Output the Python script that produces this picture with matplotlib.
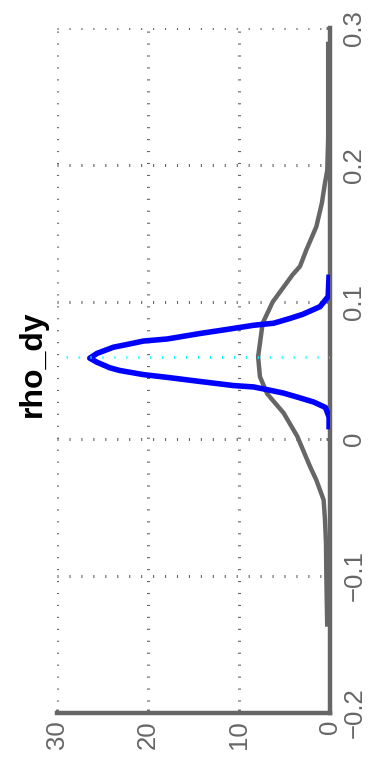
import matplotlib
matplotlib.use("Agg")
import matplotlib.pyplot as plt

plt.rcParams['font.family'] = ['Liberation Sans', 'DejaVu Sans']
plt.rcParams['lines.scale_dashes'] = False

# rho_dy distributions (x = position, y = density)
blue_x = [0.007, 0.016, 0.023, 0.027, 0.030, 0.0335, 0.036, 0.038, 0.039, 0.042,
          0.045, 0.047, 0.050, 0.052, 0.056, 0.059, 0.0625, 0.067, 0.069, 0.0715,
          0.073, 0.077, 0.080, 0.083, 0.0845, 0.088, 0.091, 0.0966, 0.104, 0.12]
blue_y = [0.1, 0.1, 0.5, 1.8, 3.3, 5.1, 6.9, 8.4, 10.6, 14.3,
          17.9, 20.5, 23.1, 24.2, 25.6, 26.4, 25.6, 23.8, 22.3, 20.5,
          17.9, 14.3, 11.3, 8.4, 6.2, 4.4, 3.0, 1.1, 0.2, 0.1]

gray_x = [-0.137, -0.12, -0.10, -0.076, -0.059, -0.0445, -0.030, -0.020, 0.002, 0.019,
          0.033, 0.0455, 0.060, 0.0845, 0.100, 0.120, 0.126, 0.138, 0.155, 0.172,
          0.187, 0.196, 0.22, 0.25, 0.29]
gray_y = [0.3, 0.35, 0.4, 0.44, 0.55, 0.7, 1.5, 2.2, 3.6, 5.1,
          6.9, 7.7, 7.9, 7.4, 6.3, 4.1, 3.3, 2.6, 1.5, 0.9,
          0.55, 0.3, 0.2, 0.2, 0.2]

marker_x = 0.0595
marker_len = 29

title = "rho_dy"
pos_ticks = [-0.2, -0.1, 0.0, 0.1, 0.2, 0.3]
pos_labels = ["\u22120.2", "\u22120.1", "0", "0.1", "0.2", "0.3"]
dens_ticks = [0, 10, 20, 30]
dens_labels = ["0", "10", "20", "30"]

GRAY = "#666666"

fig = plt.figure(figsize=(3.74, 7.76), dpi=100)
ax = fig.add_axes([57/374, 1-713/776, (330-57)/374, (713-28)/776])

ax.plot(gray_y, gray_x, color=GRAY, lw=3.2, solid_capstyle='butt', zorder=3)
ax.plot(blue_y, blue_x, color="#0000ff", lw=4.0, solid_capstyle='butt', zorder=4)
ax.plot([0, marker_len], [marker_x, marker_x], color="#00ffff", lw=2.2,
        linestyle=(0, (0.8, 7.8)), zorder=5)

ax.set_xlim(30, 0)
ax.set_ylim(-0.2, 0.3)
ax.set_xticks(dens_ticks)
ax.set_xticklabels(dens_labels, rotation=90)
ax.set_yticks(pos_ticks)
ax.set_yticklabels(pos_labels, rotation=90, va='center')
ax.yaxis.tick_right()

for s in ['top', 'left']:
    ax.spines[s].set_visible(False)
for s in ['bottom', 'right']:
    ax.spines[s].set_color(GRAY)
    ax.spines[s].set_linewidth(3.2)
    ax.spines[s].set_zorder(2)

ax.tick_params(axis='both', direction='in', length=3, width=2, colors=GRAY,
               labelsize=18.5, labelcolor=GRAY)
ax.tick_params(axis='x', pad=5)
ax.tick_params(axis='y', pad=9)

ax.grid(True, color=GRAY, lw=2.2, linestyle=(0, (0.8, 7.8)))
ax.set_axisbelow(True)

fig.text(33/374, 1-364/776, title, rotation=90, ha='center', va='center',
         fontsize=23, fontweight='bold', color='black')

fig.savefig("out.png", dpi=100)
